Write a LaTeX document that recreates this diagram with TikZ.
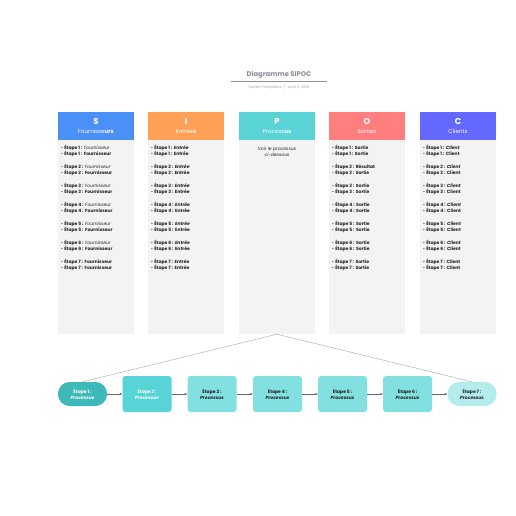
\documentclass[tikz,border=0pt]{standalone}
\usepackage{fontspec}
\setmainfont{Poppins}
\usetikzlibrary{arrows.meta}
\definecolor{cS}{HTML}{4A90F7}
\definecolor{cI}{HTML}{FFA057}
\definecolor{cP}{HTML}{5AD3D6}
\definecolor{cO}{HTML}{FF7E7E}
\definecolor{cC}{HTML}{6568FF}
\definecolor{cBody}{HTML}{F3F3F3}
\definecolor{cSt1}{HTML}{3DB9BA}
\definecolor{cSt2}{HTML}{57D4D7}
\definecolor{cSt3}{HTML}{82E0E0}
\definecolor{cSt7}{HTML}{B3ECEC}
\definecolor{cTitle}{HTML}{8A8F99}
\definecolor{cTxt}{HTML}{222222}
\tikzset{
  hdr/.style={minimum width=76pt, minimum height=28pt, inner sep=0pt, text=white, align=center, font=\fontsize{5.6}{8.5}\selectfont},
  bodybox/.style={fill=cBody, minimum width=76pt, minimum height=194pt, inner sep=0pt},
  itm/.style={anchor=west, inner sep=0pt, text=cTxt, font=\fontsize{4.5}{5}\selectfont},
  stepbox/.style={minimum width=49pt, minimum height=36pt, rounded corners=3pt, inner sep=0pt, align=center, font=\fontsize{4.5}{6.2}\selectfont, text=cTxt},
  pill/.style={minimum width=49pt, minimum height=24pt, rounded corners=11.5pt, inner sep=0pt, align=center, font=\fontsize{4.5}{6.2}\selectfont},
  conn/.style={draw=gray!80!black, line width=0.6pt, -{Stealth[length=2.8pt,width=2.4pt]}},
  guide/.style={draw=gray!70, line width=0.4pt}
}
\begin{document}
\begin{tikzpicture}[x=1pt,y=-1pt]
\useasboundingbox[fill=white] (0,0) rectangle (516,516);
% title
\node[text=cTitle, font=\fontsize{6.8}{8}\selectfont\bfseries] (title) at (279,75) {Diagramme SIPOC};
\coordinate (tl) at (231,81.5);
\coordinate (tr) at (327,81.5);
\draw[draw=cTitle, line width=0.5pt] (tl) -- (tr);
\node[text=cTitle!80, font=\fontsize{3.6}{4}\selectfont] (sub) at (279,87) {System Templates \ $|$ \ April 5, 2025};
% headers
\node[hdr, fill=cS] (hS) at (96,126) {{\fontsize{8.5}{9}\selectfont\bfseries S}\\Fournisse\textbf{urs}};
\node[hdr, fill=cI] (hI) at (186,126) {{\fontsize{8.5}{9}\selectfont\bfseries I}\\Entrée\textbf{s}};
\node[hdr, fill=cP] (hP) at (277,126) {{\fontsize{8.5}{9}\selectfont\bfseries P}\\Process\textbf{us}};
\node[hdr, fill=cO] (hO) at (367,126) {{\fontsize{8.5}{9}\selectfont\bfseries O}\\Sorties};
\node[hdr, fill=cC] (hC) at (458,126) {{\fontsize{8.5}{9}\selectfont\bfseries C}\\Clients};
% bodies
\node[bodybox] (bS) at (96,237) {};
\node[bodybox] (bI) at (186,237) {};
\node[bodybox] (bP) at (277,237) {};
\node[bodybox] (bO) at (367,237) {};
\node[bodybox] (bC) at (458,237) {};
\node[text=cTxt, align=center, font=\fontsize{4.5}{6.5}\selectfont\itshape] (pt) at (277,152) {Voir le processus\\ci-dessous};
% items
\foreach \k in {1,...,7}{
  \pgfmathsetmacro{\ya}{148+(\k-1)*19}
  \pgfmathsetmacro{\yb}{\ya+6.4}
  \ifnum\k<7
    \node[itm] (s\k a) at (61,\ya) {\textbullet\ \textbf{Étape \k\ :} \textit{Fournisseur}};
    \node[itm] (i\k a) at (151,\ya) {\textbullet\ \textbf{Étape \k\ :} \textbf{\textit{Entrée}}};
    \node[itm] (c\k a) at (423,\ya) {\textbullet\ \textbf{Étape \k\ :} \textbf{\textit{Client}}};
  \else
    \node[itm] (s\k a) at (61,\ya) {\textbullet\ \textbf{Étape \k\ :} \textbf{Fournisseur}};
    \node[itm] (i\k a) at (151,\ya) {\textbullet\ \textbf{Étape \k\ :} \textbf{Entrée}};
    \node[itm] (c\k a) at (423,\ya) {\textbullet\ \textbf{Étape \k\ :} \textbf{Client}};
  \fi
  \ifnum\k=2
    \node[itm] (o\k a) at (332,\ya) {\textbullet\ \textbf{Étape \k\ :} \textbf{Résultat}};
  \else
    \node[itm] (o\k a) at (332,\ya) {\textbullet\ \textbf{Étape \k\ :} \textbf{Sortie}};
  \fi
  \node[itm] (s\k b) at (61,\yb) {\textbullet\ \textbf{Étape \k\ :} \textbf{Fournisseur}};
  \node[itm] (i\k b) at (151,\yb) {\textbullet\ \textbf{Étape \k\ :} \textbf{Entrée}};
  \node[itm] (o\k b) at (332,\yb) {\textbullet\ \textbf{Étape \k\ :} \textbf{Sortie}};
  \node[itm] (c\k b) at (423,\yb) {\textbullet\ \textbf{Étape \k\ :} \textbf{Client}};
}
% process steps
\node[pill, fill=cSt1, text=white] (st1) at (82.5,394) {\textbf{Étape 1 :}\\\textbf{\textit{Processus}}};
\node[stepbox, fill=cSt2, text=white] (st2) at (147,394) {\textbf{Étape 2 :}\\\textbf{\textit{Processus}}};
\node[stepbox, fill=cSt3] (st3) at (212,394) {\textbf{Étape 3 :}\\\textbf{\textit{Processus}}};
\node[stepbox, fill=cSt3] (st4) at (277.5,394) {\textbf{Étape 4 :}\\\textbf{\textit{Processus}}};
\node[stepbox, fill=cSt3] (st5) at (342.5,394) {\textbf{Étape 5 :}\\\textbf{\textit{Processus}}};
\node[stepbox, fill=cSt3] (st6) at (407.5,394) {\textbf{Étape 6 :}\\\textbf{\textit{Processus}}};
\node[pill, fill=cSt7, text=cTxt] (st7) at (472,394) {\textbf{Étape 7 :}\\\textbf{\textit{Processus}}};
\draw[conn] (st1) -- (st2);
\draw[conn] (st2) -- (st3);
\draw[conn] (st3) -- (st4);
\draw[conn] (st4) -- (st5);
\draw[conn] (st5) -- (st6);
\draw[conn] (st6) -- (st7);
\draw[guide] (st1.north) -- (bP.south) -- (st7.north);
\end{tikzpicture}
\end{document}
